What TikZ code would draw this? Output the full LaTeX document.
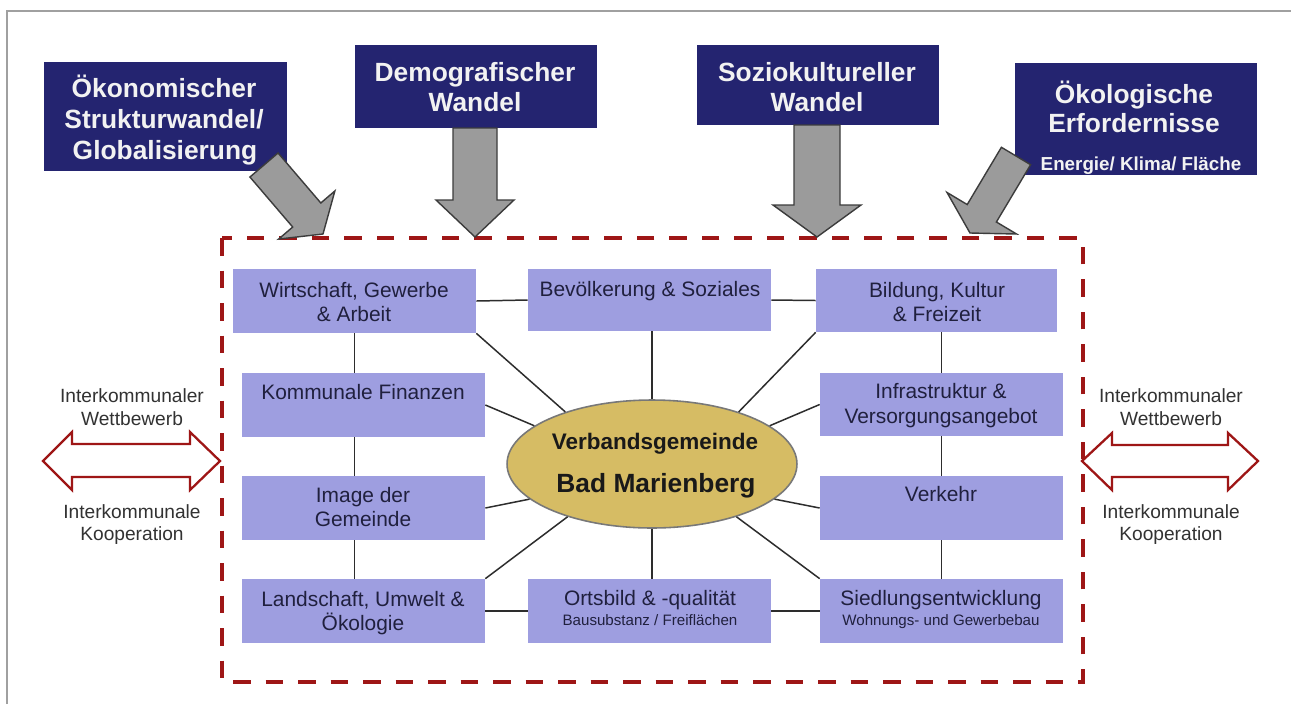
\documentclass[tikz,border=0pt]{standalone}
\usepackage{fontspec}
\setmainfont{Liberation Sans}
\usetikzlibrary{calc,fit,shapes.geometric}
\definecolor{navy}{RGB}{36,36,112}
\definecolor{topwhite}{RGB}{242,242,242}
\definecolor{lav}{RGB}{158,158,224}
\definecolor{subtext}{RGB}{32,32,62}
\definecolor{gold}{RGB}{214,188,100}
\definecolor{ellborder}{RGB}{120,120,120}
\definecolor{arrowgray}{RGB}{155,155,155}
\definecolor{arrowedge}{RGB}{60,60,60}
\definecolor{darkred}{RGB}{158,22,22}
\definecolor{linegray}{RGB}{45,45,45}
\definecolor{sidegray}{RGB}{50,50,50}
\definecolor{framegray}{RGB}{160,160,160}
\newcommand\fatarrow[5]{%
  \coordinate (fatH) at ($(#2)!#5!(#1)$);
  \filldraw[grayarrow] ($(#1)!#3!90:(#2)$) -- ($(fatH)!#3!90:(#2)$) -- ($(fatH)!#4!90:(#2)$) -- (#2)
    -- ($(fatH)!#4!-90:(#2)$) -- ($(fatH)!#3!-90:(#2)$) -- ($(#1)!#3!-90:(#2)$) -- cycle;
}
\begin{document}
\begin{tikzpicture}[x=0.02cm,y=-0.02cm,
  topbox/.style={fill=navy, draw=none, inner sep=0pt},
  toptxt/.style={text=topwhite, font=\fontsize{15}{18}\selectfont\bfseries, anchor=base, inner sep=0pt},
  topsmall/.style={text=topwhite, font=\fontsize{10.7}{13}\selectfont\bfseries, anchor=base, inner sep=0pt},
  subbox/.style={fill=lav, draw=none, inner sep=0pt},
  subtxt/.style={text=subtext, font=\fontsize{11.9}{14}\selectfont, anchor=base, inner sep=0pt},
  smalltxt/.style={text=subtext, font=\fontsize{8.6}{10}\selectfont, anchor=base, inner sep=0pt},
  elltxt/.style={text=black!90, anchor=base, inner sep=0pt},
  sidetxt/.style={text=sidegray, font=\fontsize{10.9}{13}\selectfont, anchor=base, inner sep=0pt},
  conn/.style={draw=linegray, line width=0.85pt},
  redbox/.style={draw=darkred, line width=2.3pt, dash pattern=on 10pt off 8.5pt},
  grayarrow/.style={fill=arrowgray, draw=arrowedge, line width=0.8pt, line join=miter},
  dblarrow/.style={fill=white, draw=darkred, line width=1.3pt, line join=miter}]
\useasboundingbox (0,0) rectangle (1291,704);
\fill[white] (0,0) rectangle (1291,704);
\draw[framegray, line width=0.9pt] (7,704) -- (7,11) -- (1291,11);

% dashed frame
\draw[redbox] (222,238) rectangle (1083,682);

% top boxes
\node[topbox, fit={(44,62)(287,171)}] (b1) {};
\node[topbox, fit={(355,45)(597,128)}] (b2) {};
\node[topbox, fit={(697,45)(939,125)}] (b3) {};
\node[topbox, fit={(1015,63)(1257,175)}] (b4) {};
\node[toptxt] (b1t1) at (164,97) {Ökonomischer};
\node[toptxt] (b1t2) at (164,128) {Strukturwandel/};
\node[toptxt] (b1t3) at (165,159) {Globalisierung};
\node[toptxt] (b2t1) at (475,81) {Demografischer};
\node[toptxt] (b2t2) at (475,111) {Wandel};
\node[toptxt] (b3t1) at (817,81) {Soziokultureller};
\node[toptxt] (b3t2) at (817,111) {Wandel};
\node[toptxt] (b4t1) at (1134,103) {Ökologische};
\node[toptxt] (b4t2) at (1134,132) {Erfordernisse};
\node[topsmall] (b4t3) at (1141,170) {Energie/ Klima/ Fläche};

% gray arrows
\coordinate (a1t) at (264,165); \coordinate (a1p) at (323,234);
\coordinate (a2t) at (475,128); \coordinate (a2p) at (475,237);
\coordinate (a3t) at (817,125); \coordinate (a3p) at (817,237);
\coordinate (a4t) at (1016,156); \coordinate (a4p) at (970,233);
\fatarrow{a1t}{a1p}{0.37cm}{0.74cm}{0.5cm}
\fatarrow{a2t}{a2p}{0.44cm}{0.78cm}{0.74cm}
\fatarrow{a3t}{a3p}{0.46cm}{0.88cm}{0.64cm}
\fatarrow{a4t}{a4p}{0.34cm}{0.81cm}{0.46cm}

% sub boxes
\node[subbox, fit={(233,269)(476,333)}] (wirt) {};
\node[subbox, fit={(528,269)(771,331)}] (bev) {};
\node[subbox, fit={(816,269)(1057,332)}] (bild) {};
\node[subbox, fit={(242,373)(485,437)}] (komm) {};
\node[subbox, fit={(820,373)(1063,436)}] (infra) {};
\node[subbox, fit={(242,476)(485,540)}] (img) {};
\node[subbox, fit={(820,476)(1063,540)}] (verk) {};
\node[subbox, fit={(242,579)(485,643)}] (land) {};
\node[subbox, fit={(528,579)(771,643)}] (orts) {};
\node[subbox, fit={(820,579)(1063,643)}] (sied) {};

\node[subtxt] (wirt1) at (354,297) {Wirtschaft, Gewerbe};
\node[subtxt] (wirt2) at (354,321) {\& Arbeit};
\node[subtxt] (bev1) at (650,296) {Bevölkerung \& Soziales};
\node[subtxt] (bild1) at (937,297) {Bildung, Kultur};
\node[subtxt] (bild2) at (937,321) {\& Freizeit};
\node[subtxt] (komm1) at (363,399) {Kommunale Finanzen};
\node[subtxt] (infra1) at (941,398) {Infrastruktur \&};
\node[subtxt] (infra2) at (941,423) {Versorgungsangebot};
\node[subtxt] (img1) at (363,502) {Image der};
\node[subtxt] (img2) at (363,526) {Gemeinde};
\node[subtxt] (verk1) at (941,501) {Verkehr};
\node[subtxt] (land1) at (363,606) {Landschaft, Umwelt \&};
\node[subtxt] (land2) at (363,630) {Ökologie};
\node[subtxt] (orts1) at (650,605) {Ortsbild \& -qualität};
\node[smalltxt] (orts2) at (650,625) {Bausubstanz / Freiflächen};
\node[subtxt] (sied1) at (941,605) {Siedlungsentwicklung};
\node[smalltxt] (sied2) at (941,625) {Wohnungs- und Gewerbebau};

% ellipse
\node[ellipse, fill=gold, draw=ellborder, line width=0.9pt, minimum width=5.8cm, minimum height=2.56cm, inner sep=0pt] (ell) at (652,464) {};
\node[elltxt, font=\fontsize{12.8}{15}\selectfont\bfseries] (ell1) at (655,449) {Verbandsgemeinde};
\node[elltxt, font=\fontsize{15}{18}\selectfont\bfseries] (ell2) at (656,492) {Bad Marienberg};

% connectors
\draw[conn] (wirt.east) -- (bev.west);
\draw[conn] (bev.east) -- (bild.west);
\draw[conn] (land.east) -- (orts.west);
\draw[conn] (orts.east) -- (sied.west);
\draw[conn] (wirt.south) -- (wirt.south |- komm.north);
\draw[conn] (wirt.south |- komm.south) -- (wirt.south |- img.north);
\draw[conn] (wirt.south |- img.south) -- (wirt.south |- land.north);
\draw[conn] (infra.north) -- (infra.north |- bild.south);
\draw[conn] (infra.south) -- (verk.north);
\draw[conn] (verk.south) -- (sied.north);
\draw[conn] (ell.north |- bev.south) -- (ell.north);
\draw[conn] (ell.south |- orts.north) -- (ell.south);
\draw[conn] (wirt.south east) -- (ell.149);
\draw[conn] (bild.south west) -- (ell.31);
\draw[conn] (komm.east) -- (ell.162);
\draw[conn] (infra.west) -- (ell.18);
\draw[conn] (img.east) -- (ell.196);
\draw[conn] (verk.west) -- (ell.344);
\draw[conn] (land.north east) -- (ell.212);
\draw[conn] (sied.north west) -- (ell.328);

% double arrows
\draw[dblarrow] (43,461) -- (72,432) -- (72,444) -- (190,444) -- (190,432) -- (220,461)
  -- (190,490) -- (190,477) -- (72,477) -- (72,490) -- cycle;
\draw[dblarrow] (1082,461) -- (1112,433) -- (1112,445) -- (1228,445) -- (1228,433) -- (1258,461)
  -- (1228,490) -- (1228,477) -- (1112,477) -- (1112,490) -- cycle;

% side texts
\node[sidetxt] (l1) at (132,402) {Interkommunaler};
\node[sidetxt] (l2) at (132,425) {Wettbewerb};
\node[sidetxt] (l3) at (132,518) {Interkommunale};
\node[sidetxt] (l4) at (132,540) {Kooperation};
\node[sidetxt] (r1) at (1171,402) {Interkommunaler};
\node[sidetxt] (r2) at (1171,425) {Wettbewerb};
\node[sidetxt] (r3) at (1171,518) {Interkommunale};
\node[sidetxt] (r4) at (1171,540) {Kooperation};
\end{tikzpicture}
\end{document}
